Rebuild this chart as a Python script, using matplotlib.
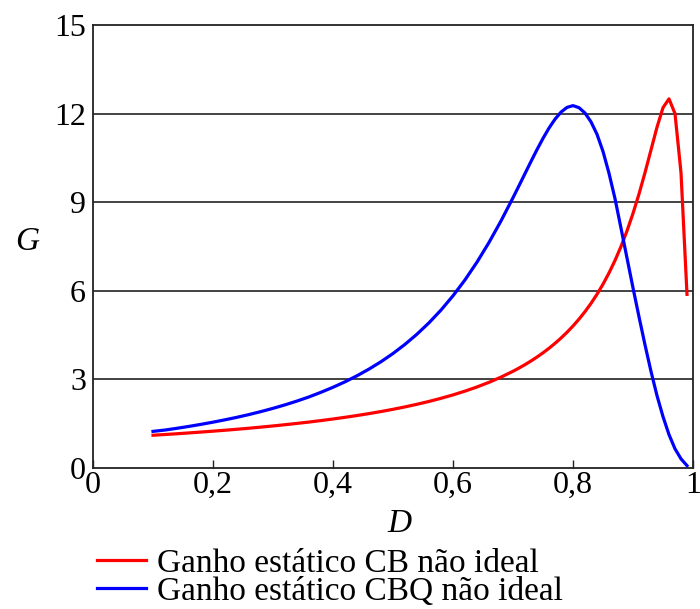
import matplotlib
matplotlib.use("Agg")
import matplotlib.pyplot as plt

# Data
cb_D = [0.10, 0.12, 0.14, 0.16, 0.18, 0.20, 0.22, 0.24, 0.26, 0.28, 0.30, 0.32,
        0.34, 0.36, 0.38, 0.40, 0.42, 0.44, 0.46, 0.48, 0.50, 0.52, 0.54, 0.56,
        0.58, 0.60, 0.62, 0.64, 0.66, 0.68, 0.70, 0.71, 0.72, 0.73, 0.74, 0.75,
        0.76, 0.77, 0.78, 0.79, 0.80, 0.81, 0.82, 0.83, 0.84, 0.85, 0.86, 0.87,
        0.88, 0.89, 0.90, 0.91, 0.92, 0.93, 0.94, 0.95, 0.96, 0.97, 0.98, 0.99]
cb_G = [1.109, 1.134, 1.160, 1.188, 1.217, 1.247, 1.279, 1.312, 1.347, 1.385,
        1.424, 1.466, 1.510, 1.556, 1.606, 1.659, 1.716, 1.777, 1.842, 1.912,
        1.987, 2.069, 2.158, 2.254, 2.360, 2.475, 2.603, 2.744, 2.901, 3.077,
        3.275, 3.384, 3.500, 3.624, 3.757, 3.900, 4.054, 4.220, 4.400, 4.595,
        4.808, 5.040, 5.294, 5.574, 5.882, 6.224, 6.604, 7.027, 7.500, 8.029,
        8.621, 9.278, 10.00, 10.77, 11.54, 12.20, 12.50, 12.00, 10.00, 5.88]

cbq_D = [0.10, 0.12, 0.14, 0.16, 0.18, 0.20, 0.22, 0.24, 0.26, 0.28, 0.30, 0.32,
         0.34, 0.36, 0.38, 0.40, 0.42, 0.44, 0.46, 0.48, 0.50, 0.52, 0.54, 0.56,
         0.58, 0.60, 0.62, 0.64, 0.66, 0.68, 0.70, 0.71, 0.72, 0.73, 0.74, 0.75,
         0.76, 0.77, 0.78, 0.79, 0.80, 0.81, 0.82, 0.83, 0.84, 0.85, 0.86, 0.87,
         0.88, 0.89, 0.90, 0.91, 0.92, 0.93, 0.94, 0.95, 0.96, 0.97, 0.98, 0.99]
cbq_G = [1.24, 1.285, 1.345, 1.409, 1.478, 1.552, 1.632, 1.717, 1.810, 1.911,
         2.020, 2.138, 2.267, 2.407, 2.564, 2.733, 2.918, 3.123, 3.349, 3.599,
         3.877, 4.187, 4.532, 4.917, 5.348, 5.831, 6.370, 6.971, 7.637, 8.366,
         9.151, 9.558, 9.969, 10.38, 10.78, 11.16, 11.51, 11.81, 12.05, 12.21,
         12.27, 12.20, 12.02, 11.72, 11.30, 10.72, 9.98, 9.12, 8.12, 7.11,
         6.10, 5.12, 4.17, 3.27, 2.45, 1.74, 1.13, 0.65, 0.31, 0.08]

x_ticks = [0, 0.2, 0.4, 0.6, 0.8, 1.0]
x_ticklabels = ["0", "0,2", "0,4", "0,6", "0,8", "1"]
y_ticks = [0, 3, 6, 9, 12, 15]
y_ticklabels = ["0", "3", "6", "9", "12", "15"]
legend_labels = ["Ganho estático CB não ideal", "Ganho estático CBQ não ideal"]

plt.rcParams['font.family'] = ['Liberation Serif', 'DejaVu Serif']

fig = plt.figure(figsize=(7.0, 6.09), dpi=100)
ax = fig.add_axes([93/700, 1 - 468/609, 600/700, 443/609])

for y in y_ticks[1:-1]:
    ax.axhline(y, color='#222222', lw=1.2, zorder=1)

l1, = ax.plot(cb_D, cb_G, color='#ff0000', lw=2.3, zorder=3,
              solid_joinstyle='round')
l2, = ax.plot(cbq_D, cbq_G, color='#0000ff', lw=2.3, zorder=3,
              solid_joinstyle='round')

ax.set_xlim(0, 1)
ax.set_ylim(0, 15)
ax.set_xticks(x_ticks)
ax.set_xticklabels(x_ticklabels)
ax.set_yticks(y_ticks)
ax.set_yticklabels(y_ticklabels)
ax.tick_params(axis='x', direction='in', length=6, width=1.0, pad=2,
               labelsize=23, color='#222222')
ax.tick_params(axis='y', length=0, pad=5, labelsize=23)

for s in ax.spines.values():
    s.set_linewidth(1.3)
    s.set_color('#222222')

ax.set_xlabel('D', fontsize=24, fontstyle='italic')
ax.xaxis.set_label_coords(0.51, -0.125)
ax.xaxis.label.set_va('center')
ax.set_ylabel('G', fontsize=24, fontstyle='italic', rotation=0)
ax.yaxis.set_label_coords(-0.11, 0.51)
ax.yaxis.label.set_va('center')
ax.yaxis.label.set_ha('center')

leg = ax.legend([l1, l2], legend_labels, loc='upper left',
                bbox_to_anchor=(0.007, -0.182), frameon=False, fontsize=24,
                handlelength=1.45, handletextpad=0.33, labelspacing=-0.08,
                borderpad=0, borderaxespad=0)

fig.savefig('out.png', dpi=100)
